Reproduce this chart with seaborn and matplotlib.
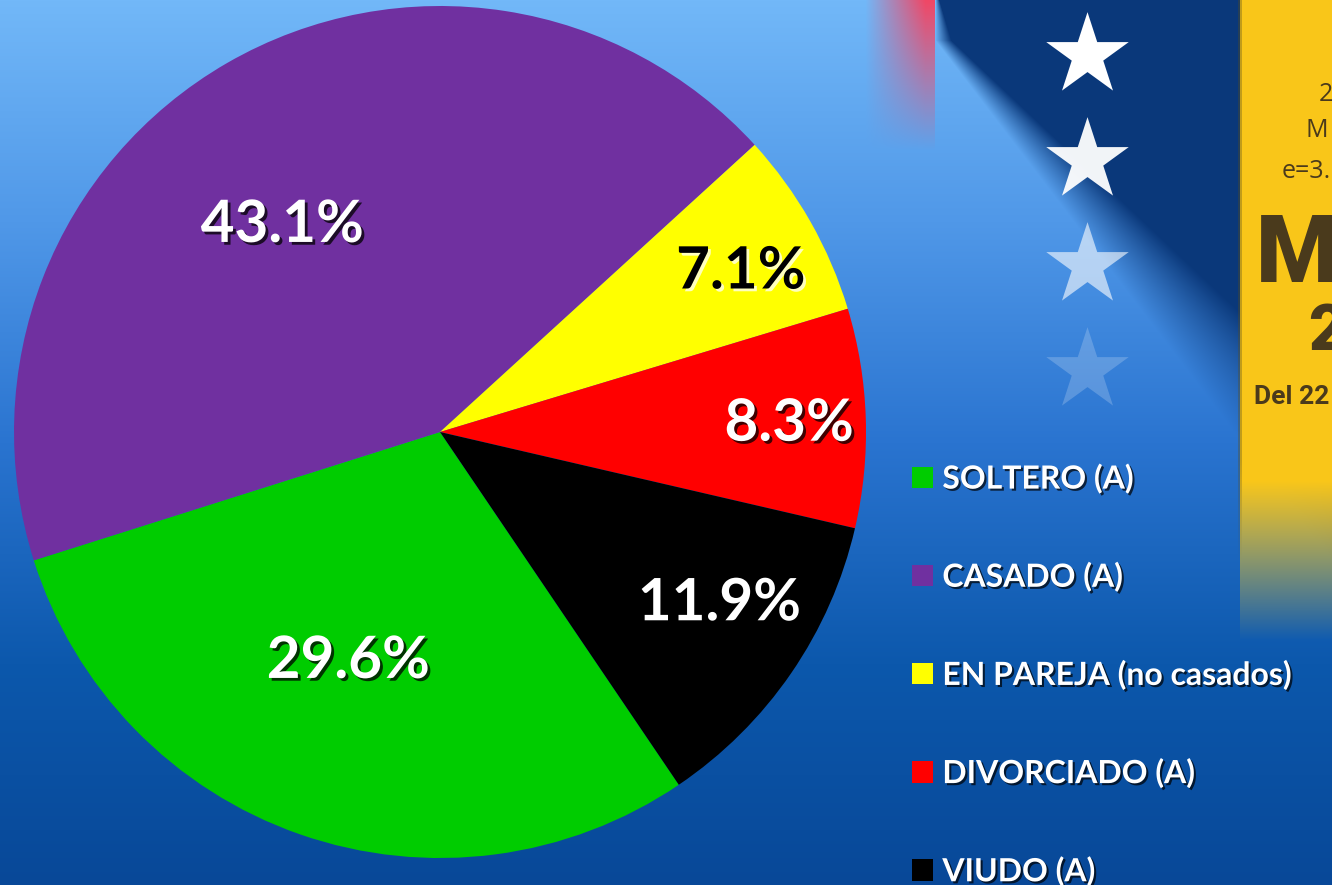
import matplotlib
matplotlib.use("Agg")
import matplotlib.pyplot as plt
import matplotlib.patheffects as pe
from matplotlib.patches import Patch
import numpy as np
import seaborn as sns

# datos del grafico
categorias = ["SOLTERO (A)", "CASADO (A)", "EN PAREJA (no casados)", "DIVORCIADO (A)", "VIUDO (A)"]
porcentajes = [29.6, 43.1, 7.1, 8.3, 11.9]
colores = ["#00cc00", "#7030a0", "#ffff00", "#ff0000", "#000000"]
color_texto = ["white", "white", "black", "white", "white"]
# colocacion de etiquetas (distancia radial y giro respecto al centro de la cuna)
dist_etiqueta = [0.58, 0.61, 0.80, 0.82, 0.77]
giro_etiqueta = [-2.6, 7.4, -1.6, -0.6, 2.9]

sns.set_theme(style="white")
plt.rcParams['font.family'] = ['Lato', 'DejaVu Sans']

W, H = 1332, 885
fig = plt.figure(figsize=(W / 100, H / 100), dpi=100)

# fondo: degradado azul + franjas decorativas
yy = np.arange(H)[:, None] * np.ones((1, W))
xx = np.ones((H, 1)) * np.arange(W)[None, :]
stops = np.array([0, 0.25, 0.5, 0.75, 1.0])
cols = np.array([[114, 184, 248], [80, 152, 232], [42, 116, 208], [12, 88, 172], [8, 72, 152]]) / 255
t = yy / H
img = np.stack([np.interp(t, stops, cols[:, i]) for i in range(3)], axis=-1)

def mezcla(img, color, alpha):
    a = np.clip(alpha, 0, 1)[..., None]
    return img * (1 - a) + np.array(color)[None, None, :] * a

# franja roja arriba
a_rojo = np.clip((xx - 865) / 60, 0, 1) * np.clip(1 - yy / 150, 0, 1) * (xx < 935)
img = mezcla(img, [0.94, 0.28, 0.40], a_rojo)
# banda azul oscuro diagonal
x0 = 935 + 0.7625 * np.clip(yy - 40, 0, None)
ancho = 4 + 0.3 * yy
a_navy = np.clip((xx - x0) / ancho, 0, 1)
img = mezcla(img, [0.04, 0.22, 0.48], a_navy)
# panel amarillo
a_am = (xx >= 1240) * np.clip((640 - yy) / 160, 0, 1)
img = mezcla(img, [0.98, 0.78, 0.10], a_am)
a_sombra = ((xx >= 1238) & (xx < 1242)) * np.clip((560 - yy) / 100, 0, 1) * 0.35
img = mezcla(img, [0.35, 0.3, 0.1], a_sombra)

bg = fig.add_axes([0, 0, 1, 1])
bg.imshow(img, extent=(0, W, H, 0), aspect='auto', interpolation='bilinear')
bg.set_xlim(0, W)
bg.set_ylim(H, 0)
bg.axis('off')

# estrellas
for yest, al in zip([55, 160, 265, 370], [1.0, 0.95, 0.6, 0.2]):
    bg.scatter([1087], [yest], marker='*', s=3900, color='white', alpha=al, linewidths=0, zorder=3)

marron = "#4a3a1c"
fam_normal = ['Open Sans', 'DejaVu Sans']
bg.text(1319, 101, "2", fontsize=18, color=marron, va='baseline', ha='left', family=fam_normal)
bg.text(1305, 137, "M", fontsize=18, color=marron, va='baseline', ha='left', family=fam_normal)
bg.text(1282, 178, "e=3.", fontsize=18, color=marron, va='baseline', ha='left', family=fam_normal)
bg.text(1256, 282, "M", fontsize=68, color=marron, va='baseline', ha='left', fontweight='black',
        family=['Roboto', 'DejaVu Sans'])
bg.text(1308, 350, "2", fontsize=47, color=marron, va='baseline', ha='left', fontweight='black',
        family=['Roboto', 'DejaVu Sans'])
bg.text(1254, 404, "Del 22 a", fontsize=19, color=marron, va='baseline', ha='left', fontweight='bold',
        family=['Roboto', 'DejaVu Sans'])

# pastel
cx, cy, r = 440, 432, 426
ax = fig.add_axes([(cx - r) / W, (H - cy - r) / H, 2 * r / W, 2 * r / H])
wedges, textos, autotextos = ax.pie(porcentajes, colors=colores, startangle=304.1, counterclock=False,
                                    radius=1, autopct='%1.1f%%', pctdistance=0.7,
                                    wedgeprops=dict(linewidth=0),
                                    textprops=dict(fontsize=42, fontweight='bold'))
ax.set_xlim(-1, 1)
ax.set_ylim(-1, 1)
ax.axis('off')

for w, txt, d, g, c in zip(wedges, autotextos, dist_etiqueta, giro_etiqueta, color_texto):
    ang = np.deg2rad((w.theta1 + w.theta2) / 2 + g)
    txt.set_position((d * np.cos(ang), d * np.sin(ang)))
    txt.set_color(c)
    sombra = 'black' if c == 'white' else 'white'
    txt.set_path_effects([pe.withSimplePatchShadow(offset=(2, -2), shadow_rgbFace=sombra, alpha=0.75)])

# leyenda
manejadores = [Patch(facecolor=c, edgecolor='none') for c in colores]
leg = fig.legend(manejadores, categorias, loc='upper left', bbox_to_anchor=(912 / W, (H - 463) / H),
                 frameon=False, prop=dict(size=23, weight='bold'), labelcolor='white',
                 handlelength=0.65, handleheight=0.65, handletextpad=0.3, labelspacing=2.11,
                 borderpad=0, borderaxespad=0)
for tx in leg.get_texts():
    tx.set_path_effects([pe.withSimplePatchShadow(offset=(1.5, -1.5), shadow_rgbFace='black', alpha=0.7)])

fig.savefig("out.png", dpi=100)
